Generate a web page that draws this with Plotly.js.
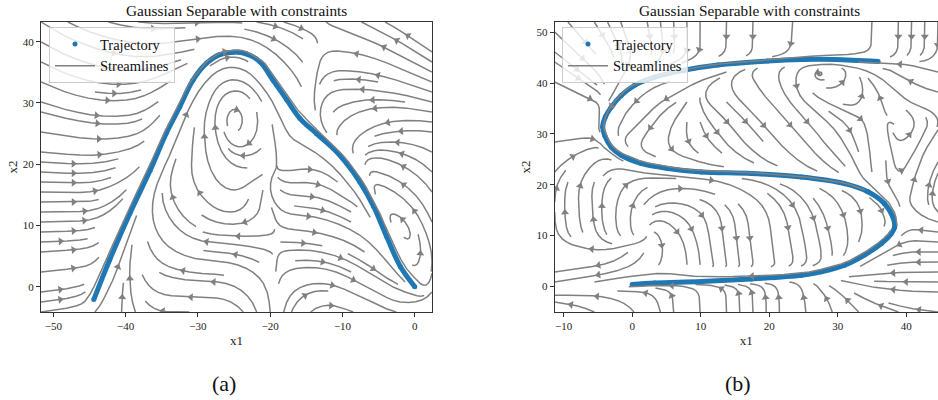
<!DOCTYPE html>
<html><head><meta charset="utf-8">
<script src="https://cdn.plot.ly/plotly-3.0.1.min.js"></script>
<style>body{margin:0;background:#fff}#chart{width:938px;height:400px}</style>
</head><body><div id="chart"></div>
<script>
// ---------- Panel (a) data ----------
const trajAx = [-44.4,-42.2,-39.4,-36.6,-34.4,-32.5,-30.7,-28.8,-27.0,-25.1,-23.3,-21.4,-19.6,-17.7,-15.9,-13.6,-11.3,-9.4,-7.6,-5.7,-3.9,-2.0,0.0];
const trajAy = [-2.1,4.4,12.0,19.0,25.0,29.4,33.7,36.5,37.9,38.3,38.0,36.7,33.7,30.5,27.5,25.0,22.6,20.1,17.1,13.1,8.2,3.3,0.0];
// flow direction read from the arrows, screen degrees (0 = right, 90 = up)
const gridAx = [-52,-46,-40,-34,-28,-22,-16,-10,-4,2];
const gridAy = [-4,2,8,14,20,26,32,38,44];
const angleA = [
  [5,15,95,180,180,110,60,-20,-25,30],
  [5,10,85,165,180,140,10,-25,-35,80],
  [0,5,75,135,175,180,-5,-20,-55,110],
  [0,0,45,110,140,260,0,-30,150,120],
  [-5,0,20,65,110,190,10,-55,160,140],
  [-10,-10,5,66,95,260,-50,230,195,175],
  [-25,-15,5,40,60,-50,-65,185,170,160],
  [-30,-20,-10,10,15,-35,-45,175,155,145],
  [-35,-25,-10,0,0,-5,-15,150,150,140]
];
// ---------- Panel (b) data ----------
const trajBx = [0.0,3.3,10.1,17.4,24.7,27.6,31.0,33.9,36.4,37.8,38.3,38.05,36.8,34.4,31.0,24.7,17.4,10.1,5.2,1.3,-1.6,-3.05,-4.0,-4.3,-3.9,-3.05,-1.6,0.36,3.3,7.66,12.5,19.8,24.7,29.5,35.9];
const trajBy = [0.3,0.6,0.9,1.4,2.1,2.8,4.1,6.1,8.4,10.3,11.6,13.6,16.3,18.6,20.2,21.5,22.2,22.5,23.2,24.2,25.8,27.4,29.7,31.4,33.4,35.3,37.6,39.6,41.2,42.6,43.6,44.4,44.7,44.7,44.3];
const gridBx = [-12,-6,0,6,12,18,24,30,36,42,48];
const gridBy = [-6,0,6,12,18,24,30,36,42,48,54];
const angleB = [
  [160,150,120,90,90,90,90,100,150,170,180],
  [190,190,180,95,90,90,95,150,175,180,180],
  [190,185,225,-85,-80,-80,-80,-80,200,180,180],
  [95,100,95,-40,-85,-85,-80,-75,-100,170,175],
  [85,90,60,10,-20,-35,-45,-50,-75,85,80],
  [40,45,-20,-5,-30,-35,-40,-45,-95,70,45],
  [0,0,220,-100,-55,-50,-50,-55,-90,60,40],
  [-15,-20,230,210,-40,-45,-50,-20,100,165,175],
  [-30,-40,230,195,200,-60,-100,60,150,150,180],
  [-40,-50,-70,-85,-90,-90,-95,-95,-90,-90,-90],
  [-45,-60,-80,-90,-90,-90,-90,-90,-90,-90,-90]
];
const xTicksA = [-50,-40,-30,-20,-10,0];
const yTicksA = [0,10,20,30,40];
const xTicksB = [-10,0,10,20,30,40];
const yTicksB = [0,10,20,30,40,50];

// ---------- geometry ----------
const PA = {xr:[-51.7,2.38], yr:[-4.13,43.22], W:391, H:290, gx:gridAx, gy:gridAy, ang:angleA, tx:trajAx, ty:trajAy, tdir:1};
const PB = {xr:[-11.3,44.63], yr:[-5.13,52.1], W:383.3, H:290, gx:gridBx, gy:gridBy, ang:angleB, tx:trajBx, ty:trajBy, tdir:-1};

function streamplot(P){
  const N = 30, D0 = 11;
  const mask = new Uint8Array(N*N);
  const xs = P.xr[1]-P.xr[0], ys = P.yr[1]-P.yr[0];
  const kx = P.W/xs, ky = P.H/ys;
  const gc = P.ang.map(r=>r.map(a=>Math.cos(a*Math.PI/180)));
  const gs = P.ang.map(r=>r.map(a=>Math.sin(a*Math.PI/180)));
  const nx = P.gx.length, ny = P.gy.length;
  const tp = P.tx.map((x,i)=>[(x-P.xr[0])*kx,(P.ty[i]-P.yr[0])*ky]);
  function field(u,v){
    const x = P.xr[0]+u*xs, y = P.yr[0]+v*ys;
    let fi = (x-P.gx[0])/(P.gx[1]-P.gx[0]); fi = Math.max(0,Math.min(nx-1.000001,fi));
    let fj = (y-P.gy[0])/(P.gy[1]-P.gy[0]); fj = Math.max(0,Math.min(ny-1.000001,fj));
    const i = Math.floor(fi), a = fi-i, j = Math.floor(fj), b = fj-j;
    const bx = (1-a)*(1-b)*gc[j][i]+a*(1-b)*gc[j][i+1]+(1-a)*b*gc[j+1][i]+a*b*gc[j+1][i+1];
    const by = (1-a)*(1-b)*gs[j][i]+a*(1-b)*gs[j][i+1]+(1-a)*b*gs[j+1][i]+a*b*gs[j+1][i+1];
    const px = u*P.W, py = v*P.H;
    let best = 1e9, tX = 0, tY = 0;
    for (let k=0;k<tp.length-1;k++){
      const ax=tp[k][0], ay=tp[k][1], dx=tp[k+1][0]-ax, dy=tp[k+1][1]-ay;
      const L2 = dx*dx+dy*dy; let t = ((px-ax)*dx+(py-ay)*dy)/L2; t=Math.max(0,Math.min(1,t));
      const qx=ax+t*dx-px, qy=ay+t*dy-py, d=Math.hypot(qx,qy);
      if (d<best){best=d; const L=Math.sqrt(L2); tX=dx/L*P.tdir; tY=dy/L*P.tdir;}
    }
    const w = Math.exp(-(best/D0)*(best/D0));
    const vx = (1-w)*bx+w*tX, vy = (1-w)*by+w*tY;
    if (Math.hypot(vx,vy) < 0.03) return null;
    const nxv = vx/P.W, nyv = vy/P.H, m = Math.hypot(nxv,nyv);
    return [nxv/m, nyv/m];
  }
  let traj = [], cur = -1;
  const key = (u,v)=>Math.floor(v*(N-1)+0.5)*N+Math.floor(u*(N-1)+0.5);
  function update(u,v){
    const k = key(u,v);
    if (k!==cur){ if (mask[k]===0){traj.push(k); mask[k]=1; cur=k; return true;} return false; }
    return true;
  }
  function rk12(u0,v0,sg){
    const maxerr=0.003, maxds=1/N; let ds=maxds, st=0, xi=u0, yi=v0; const pts=[]; let it=0;
    while(it++<4000){
      if (xi<0||xi>1||yi<0||yi>1) break;
      pts.push([xi,yi]);
      const k1 = field(xi,yi); if(!k1) break;
      const k2 = field(Math.max(0,Math.min(1,xi+ds*sg*k1[0])), Math.max(0,Math.min(1,yi+ds*sg*k1[1]))); if(!k2) break;
      const dx1=ds*sg*k1[0], dy1=ds*sg*k1[1], dx2=ds*0.5*sg*(k1[0]+k2[0]), dy2=ds*0.5*sg*(k1[1]+k2[1]);
      const err = Math.hypot(dx2-dx1,dy2-dy1);
      if (err<maxerr){
        const nxp = xi+dx2, nyp = yi+dy2;
        if (nxp<0||nxp>1||nyp<0||nyp>1){
          let t=1;
          if (nxp<0) t=Math.min(t,-xi/dx2); if (nxp>1) t=Math.min(t,(1-xi)/dx2);
          if (nyp<0) t=Math.min(t,-yi/dy2); if (nyp>1) t=Math.min(t,(1-yi)/dy2);
          pts.push([xi+t*dx2, yi+t*dy2]); st+=ds*t; break;
        }
        xi=nxp; yi=nyp;
        if (!update(xi,yi)) break;
        if (st+ds>4) break;
        st+=ds;
      }
      ds = err===0?maxds:Math.min(maxds,0.85*ds*Math.sqrt(maxerr/err));
    }
    return [st,pts];
  }
  function integrate(u0,v0){
    traj=[]; cur=-1; update(u0,v0);
    const [sb,pb]=rk12(u0,v0,-1);
    cur=key(u0,v0);
    const [sf,pf]=rk12(u0,v0,1);
    if (sb+sf>0.1) return pb.reverse().concat(pf.slice(1));
    traj.forEach(k=>mask[k]=0); return null;
  }
  const lines=[];
  let xf=0, yf=1, xl=N-1, yl=N-1, x=0, y=0, dir='r';
  for (let n=0;n<N*N;n++){
    if (mask[y*N+x]===0){ const l=integrate(x/(N-1),y/(N-1)); if(l) lines.push(l); }
    if (dir==='r'){x++; if(x>=xl){xl--; dir='u';}}
    else if (dir==='u'){y++; if(y>=yl){yl--; dir='l';}}
    else if (dir==='l'){x--; if(x<=xf){xf++; dir='d';}}
    else {y--; if(y<=yf){yf++; dir='r';}}
  }
  const LX=[], LY=[], AX=[], AY=[], AA=[];
  lines.forEach(l=>{
    l.forEach(p=>{LX.push(P.xr[0]+p[0]*xs); LY.push(P.yr[0]+p[1]*ys);});
    LX.push(null); LY.push(null);
    const s=[0]; for(let k=1;k<l.length;k++) s.push(s[k-1]+Math.hypot((l[k][0]-l[k-1][0])*P.W,(l[k][1]-l[k-1][1])*P.H));
    const half=s[s.length-1]/2; let n=0; while(n<s.length-2 && s[n+1]<half) n++;
    if (l.length>1){
      const dx=(l[n+1][0]-l[n][0])*P.W, dy=(l[n+1][1]-l[n][1])*P.H;
      AX.push(P.xr[0]+(l[n][0]+l[n+1][0])/2*xs); AY.push(P.yr[0]+(l[n][1]+l[n+1][1])/2*ys);
      AA.push(90-Math.atan2(dy,dx)*180/Math.PI);
    }
  });
  return {LX,LY,AX,AY,AA};
}

const SA = streamplot(PA), SB = streamplot(PB);
const BLUE='#1f77b4', GRAY='#808080';
function panelTraces(T, S, xa, ya, lg){
  return [
    {x:T.tx, y:T.ty, xaxis:xa, yaxis:ya, mode:'lines', line:{color:BLUE,width:5,shape:'spline'}, showlegend:false, hoverinfo:'skip'},
    {x:T.tx, y:T.ty, xaxis:xa, yaxis:ya, mode:'markers', name:'Trajectory', marker:{color:BLUE,size:5}, legend:lg, legendrank:1},
    {x:S.LX, y:S.LY, xaxis:xa, yaxis:ya, mode:'lines', name:'Streamlines', line:{color:GRAY,width:1.5}, connectgaps:false, legend:lg, legendrank:2, hoverinfo:'skip'},
    {x:S.AX, y:S.AY, xaxis:xa, yaxis:ya, mode:'markers', marker:{symbol:'triangle-up', size:7, color:GRAY, angle:S.AA, line:{width:0}}, showlegend:false, hoverinfo:'skip'}
  ];
}
const data = panelTraces(PA, SA, 'x', 'y', 'legend').concat(panelTraces(PB, SB, 'x2', 'y2', 'legend2'));

const FONT = '"Liberation Serif", "Times New Roman", serif';
function axis(domain, range, ticks, title, anchor, mirror, standoff){
  return {domain, range, anchor, tickmode:'array', tickvals:ticks, showline:true, mirror, linecolor:'#333', linewidth:1,
    ticks:'outside', ticklen:4, tickwidth:1, tickcolor:'#333', showgrid:false, zeroline:false,
    tickfont:{family:FONT,size:11,color:'#222'}, title:{text:title, standoff:standoff, font:{family:FONT,size:13,color:'#222'}}};
}
const legendBase = {xanchor:'left', yanchor:'top', bgcolor:'rgba(255,255,255,0.8)', bordercolor:'#cccccc', borderwidth:1,
  font:{family:FONT,size:14.5,color:'#111'}, tracegroupgap:0, itemwidth:40};
const layout = {
  width:938, height:400, margin:{l:0,r:0,t:0,b:0}, paper_bgcolor:'#fff', plot_bgcolor:'#fff',
  font:{family:FONT}, showlegend:true,
  xaxis: axis([41/938,432/938], PA.xr, xTicksA, 'x1', 'y', true, 4),
  yaxis: axis([0.22,0.945], PA.yr, yTicksA, 'x2', 'x', true, 2),
  xaxis2: axis([554.7/938,1], PB.xr, xTicksB, 'x1', 'y2', true, 4),
  yaxis2: axis([0.22,0.945], PB.yr, yTicksB, 'x2', 'x2', false, 2),
  legend: Object.assign({x:49/938, y:(400-27)/400}, legendBase),
  legend2: Object.assign({x:562/938, y:(400-27)/400}, legendBase),
  annotations:[
    {text:'Gaussian Separable with constraints', xref:'paper', yref:'paper', x:236.5/938, y:(400-11)/400, showarrow:false, font:{family:FONT,size:15.3,color:'#111'}, xanchor:'center', yanchor:'middle'},
    {text:'Gaussian Separable with constraints', xref:'paper', yref:'paper', x:749.7/938, y:(400-11)/400, showarrow:false, font:{family:FONT,size:15.3,color:'#111'}, xanchor:'center', yanchor:'middle'},
    {text:'(a)', xref:'paper', yref:'paper', x:224/938, y:(400-383)/400, showarrow:false, font:{family:FONT,size:22,color:'#111'}, xanchor:'center', yanchor:'middle'},
    {text:'(b)', xref:'paper', yref:'paper', x:738/938, y:(400-383)/400, showarrow:false, font:{family:FONT,size:22,color:'#111'}, xanchor:'center', yanchor:'middle'}
  ]
};
Plotly.newPlot('chart', data, layout, {staticPlot:true});
</script></body></html>
